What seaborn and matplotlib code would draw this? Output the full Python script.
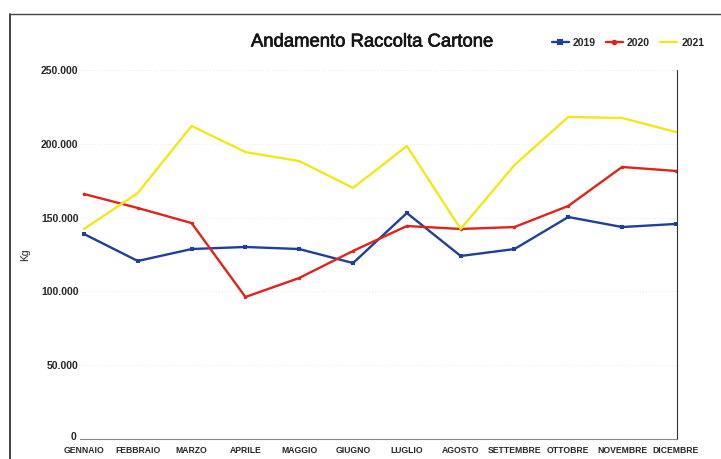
import matplotlib
matplotlib.use("Agg")
import matplotlib.pyplot as plt
import seaborn as sns
import pandas as pd
from matplotlib.lines import Line2D
from matplotlib.ticker import FuncFormatter
import matplotlib.transforms as mtransforms
import matplotlib.patheffects as pe

mesi = ["GENNAIO", "FEBBRAIO", "MARZO", "APRILE", "MAGGIO", "GIUGNO",
        "LUGLIO", "AGOSTO", "SETTEMBRE", "OTTOBRE", "NOVEMBRE", "DICEMBRE"]
v2019 = [138900, 120600, 128700, 130100, 128700, 119200,
         153100, 124000, 128700, 150400, 143600, 145700]
v2020 = [166000, 156500, 146300, 96200, 109100, 127400,
         144300, 142300, 143600, 157900, 184300, 181600]
v2021 = [142300, 166700, 212100, 194400, 188300, 170100,
         198500, 142300, 185600, 218200, 217500, 208000]
anni = ["2019", "2020", "2021"]
colori = {"2019": "#1f3f9c", "2020": "#e0231c", "2021": "#f5e61a"}
marker = {"2019": "s", "2020": "o", "2021": None}
msize = {"2019": 3.5, "2020": 2.5, "2021": 0}

sns.set_theme(style="white")
plt.rcParams["font.family"] = ["Liberation Sans", "DejaVu Sans"]

fig = plt.figure(figsize=(7.21, 4.59), dpi=100)
ax = fig.add_axes([80/721, 1-439/459, (677-80)/721, (439-70)/459])

serie = {"2019": v2019, "2020": v2020, "2021": v2021}
for a in anni:
    df = pd.DataFrame({"x": list(range(len(mesi))), "y": serie[a]})
    sns.lineplot(data=df, x="x", y="y", ax=ax, color=colori[a], linewidth=1.7,
                 marker=marker[a] if marker[a] else None,
                 markersize=msize[a], markeredgewidth=0, label=a, legend=False)

ax.set_xlim(-0.074, 11.02)
ax.set_ylim(0, 250000)
ax.set_yticks([0, 50000, 100000, 150000, 200000, 250000])
ax.yaxis.set_major_formatter(FuncFormatter(lambda v, p: f"{int(v):,}".replace(",", ".")))
ax.set_xticks(range(len(mesi)))
ax.set_xticklabels(mesi)
ax.tick_params(axis="x", labelsize=6.2, length=0, pad=5)
ax.tick_params(axis="y", labelsize=7.5, length=0, pad=1)
for lab in ax.get_xticklabels() + ax.get_yticklabels():
    lab.set_fontweight("bold")
fig.canvas.draw()
zero = ax.get_yticklabels()[0]
zero.set_transform(zero.get_transform() + mtransforms.ScaledTranslation(-2/100, 3/100, fig.dpi_scale_trans))
ax.set_xlabel("")
ax.set_ylabel("Kg", fontsize=7.5)
ax.yaxis.set_label_coords((30-80)/597, 0.5)
ax.grid(axis="y", color="#ececec", linestyle=":", linewidth=0.8)
ax.spines["left"].set_visible(False)
ax.spines["top"].set_visible(False)
ax.spines["bottom"].set_color("#888888")
ax.spines["bottom"].set_linestyle((0, (1, 1)))
ax.spines["bottom"].set_linewidth(0.8)
ax.spines["right"].set_color("#333333")
ax.spines["right"].set_linestyle((0, (2, 1)))
ax.spines["right"].set_linewidth(0.8)

fig.text(372/721, 1-42/459, "Andamento Raccolta Cartone", ha="center", va="center",
         fontsize=13.3, fontweight="normal", color="#151515",
         path_effects=[pe.withStroke(linewidth=0.5, foreground="#151515")])

handles = [Line2D([], [], color=colori[a], lw=1.7, marker=marker[a] if marker[a] else None,
                  markersize=4, markeredgewidth=0) for a in anni]
leg = fig.legend(handles, anni, loc="center", bbox_to_anchor=(628/721, 1-43/459), ncol=3,
                 frameon=False, fontsize=7.5, handlelength=1.6, handletextpad=0.4,
                 columnspacing=1.0)
for t in leg.get_texts():
    t.set_fontweight("bold")

fig.add_artist(Line2D([10/721, 10/721], [0, 1-14/459], transform=fig.transFigure,
                      color="#222222", lw=1.2))
fig.add_artist(Line2D([10/721, 1], [1-14/459, 1-14/459], transform=fig.transFigure,
                      color="#444444", lw=1.0))

fig.savefig("out.png", dpi=100)
